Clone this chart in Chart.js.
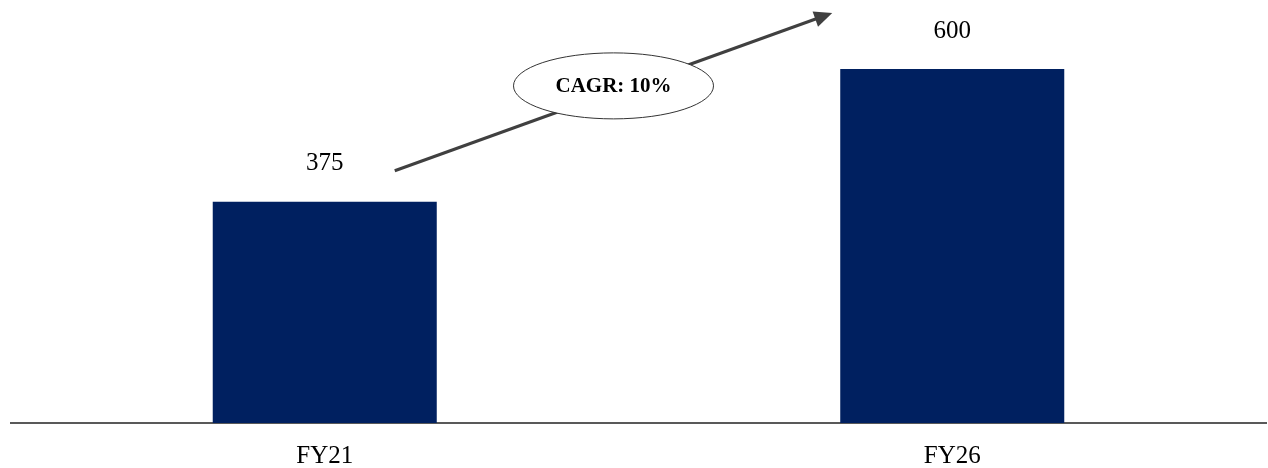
<!DOCTYPE html>
<html>
<head>
<meta charset="utf-8">
<script src="https://cdn.jsdelivr.net/npm/chart.js@4.4.1/dist/chart.umd.min.js"></script>
<style>
  html, body { margin: 0; padding: 0; background: #fff; }
  #wrap { width: 1268px; height: 468px; }
</style>
</head>
<body>
<div id="wrap"><canvas id="cagrChart" width="1268" height="468"></canvas></div>
<script>
const categories = ['FY21', 'FY26'];
const values = [375, 600];
const cagrLabel = 'CAGR: 10%';

const barColor = '#002060';
const serif = '"Liberation Serif", "Times New Roman", serif';

// value labels above each bar
const valueLabels = {
  id: 'valueLabels',
  afterDatasetsDraw(chart) {
    const { ctx } = chart;
    const meta = chart.getDatasetMeta(0);
    ctx.save();
    ctx.font = '25px ' + serif;
    ctx.fillStyle = '#000';
    ctx.textAlign = 'center';
    ctx.textBaseline = 'middle';
    meta.data.forEach((bar, i) => {
      ctx.fillText(String(values[i]), bar.x, bar.y - 38);
    });
    ctx.restore();
  }
};

// growth arrow with the CAGR ellipse
const cagrArrow = {
  id: 'cagrArrow',
  afterDatasetsDraw(chart) {
    const { ctx } = chart;
    const x = chart.scales.x, y = chart.scales.y;
    const x0 = x.getPixelForValue(0) + 70, y0 = y.getPixelForValue(values[0]) - 31;
    const x1 = x.getPixelForValue(1) - 120, y1 = y.getPixelForValue(values[1]) - 56;
    const ang = Math.atan2(y1 - y0, x1 - x0);
    ctx.save();
    ctx.strokeStyle = '#404040';
    ctx.fillStyle = '#404040';
    ctx.lineWidth = 3;
    ctx.beginPath();
    ctx.moveTo(x0, y0);
    ctx.lineTo(x1 - 14 * Math.cos(ang), y1 - 14 * Math.sin(ang));
    ctx.stroke();
    ctx.beginPath();
    ctx.moveTo(x1, y1);
    ctx.lineTo(x1 - 18 * Math.cos(ang) + 8 * Math.sin(ang), y1 - 18 * Math.sin(ang) - 8 * Math.cos(ang));
    ctx.lineTo(x1 - 18 * Math.cos(ang) - 8 * Math.sin(ang), y1 - 18 * Math.sin(ang) + 8 * Math.cos(ang));
    ctx.closePath();
    ctx.fill();

    const cx = (x0 + x1) / 2, cy = (y0 + y1) / 2 - 6;
    ctx.beginPath();
    ctx.ellipse(cx, cy, 100, 33, 0, 0, Math.PI * 2);
    ctx.fillStyle = '#fff';
    ctx.fill();
    ctx.lineWidth = 1;
    ctx.strokeStyle = '#333';
    ctx.stroke();
    ctx.fillStyle = '#000';
    ctx.font = 'bold 21px ' + serif;
    ctx.textAlign = 'center';
    ctx.textBaseline = 'middle';
    ctx.fillText(cagrLabel, cx, cy + 1);
    ctx.restore();
  }
};

new Chart(document.getElementById('cagrChart'), {
  type: 'bar',
  data: {
    labels: categories,
    datasets: [{
      data: values,
      backgroundColor: barColor,
      borderWidth: 0,
      categoryPercentage: 1,
      barPercentage: 0.357
    }]
  },
  options: {
    responsive: false,
    animation: false,
    layout: { padding: { left: 11, right: 2, top: 10, bottom: 0 } },
    plugins: { legend: { display: false }, tooltip: { enabled: false } },
    scales: {
      x: {
        grid: { display: false },
        border: { display: true, color: '#595959', width: 2 },
        ticks: { color: '#000', padding: 10, font: { family: serif, size: 25 } },
        afterFit(scale) { scale.height = 45; }
      },
      y: {
        display: false,
        min: 0,
        max: 700
      }
    }
  },
  plugins: [valueLabels, cagrArrow]
});
</script>
</body>
</html>
